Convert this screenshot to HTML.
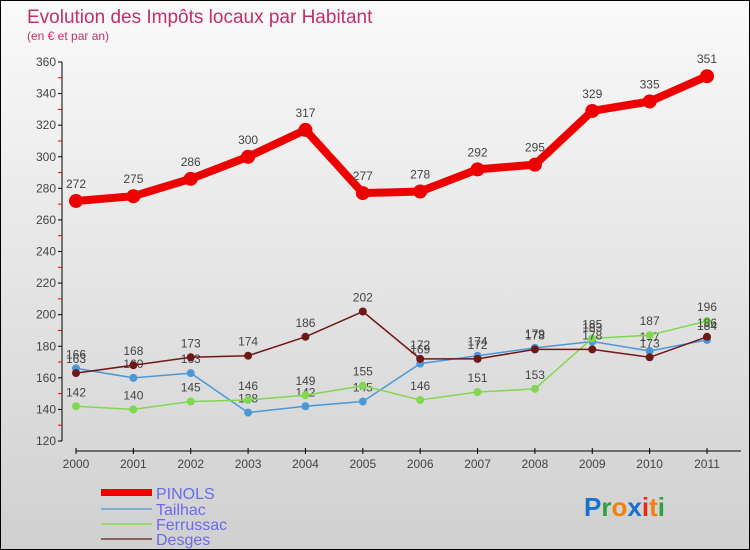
<!DOCTYPE html>
<html><head><meta charset="utf-8"><style>
body{margin:0}
#c{width:750px;height:550px;position:relative;box-sizing:border-box;border:1px solid #000;background:linear-gradient(#fafafa,#d0d0d0);overflow:hidden;font-family:"Liberation Sans",sans-serif}
</style></head><body>
<div id="c">
<svg id="s" width="748" height="548" style="position:absolute;left:0;top:0">
<text x="26" y="22" font-size="19" fill="#c0306a">Evolution des Impôts locaux par Habitant</text>
<text x="26" y="39" font-size="12" fill="#c0306a">(en € et par an)</text>
<g id="g"></g>
<g>
<rect x="100" y="488" width="51" height="7" fill="#e00"/>
<text x="155" y="498" font-size="16" fill="#6a6aee">PINOLS</text>
<rect x="100" y="507" width="51" height="2" fill="#7aaed0"/>
<text x="155" y="514" font-size="16" fill="#6a6aee">Tailhac</text>
<rect x="100" y="522" width="51" height="2" fill="#9ad870"/>
<text x="155" y="529" font-size="16" fill="#6a6aee">Ferrussac</text>
<rect x="100" y="537" width="51" height="2" fill="#906060"/>
<text x="155" y="544" font-size="16" fill="#6a6aee">Desges</text>
</g>
<text x="583" y="515" font-size="26" font-weight="bold"><tspan fill="#1a70d0">P</tspan><tspan fill="#30a040">r</tspan><tspan fill="#f08010">o</tspan><tspan fill="#1a70d0">x</tspan><tspan fill="#e03010">i</tspan><tspan fill="#f08010">t</tspan><tspan fill="#30a040">i</tspan></text>
</svg>
</div>
<script>
const years=["2000","2001","2002","2003","2004","2005","2006","2007","2008","2009","2010","2011"];
const pinols=[272,275,286,300,317,277,278,292,295,329,335,351];
const tailhac=[166,160,163,138,142,145,169,174,179,183,177,184];
const ferrussac=[142,140,145,146,149,155,146,151,153,185,187,196];
const desges=[163,168,173,174,186,202,172,172,178,178,173,186];
const yTicks=[120,140,160,180,200,220,240,260,280,300,320,340,360];
const NS="http://www.w3.org/2000/svg";
const g=document.getElementById('g');
const X=i=>75+i*(706-75)/(years.length-1);
const Y=v=>440-(v-120)*(440-61)/240;
function mk(t,a,p){const e=document.createElementNS(NS,t);for(const k in a)e.setAttribute(k,a[k]);(p||g).appendChild(e);return e;}
let ax=mk('line',{x1:61,y1:Y(360),x2:61,y2:440,stroke:'#000'});


yTicks.forEach((v,k)=>{
 mk('line',{x1:57,x2:61,y1:Y(v),y2:Y(v),stroke:'#000'});
 if(k<yTicks.length-1) mk('line',{x1:57,x2:61,y1:Y(v+10),y2:Y(v+10),stroke:'#e00'});
 const t=mk('text',{x:55,y:Y(v)+4,'font-size':12,fill:'#444','text-anchor':'end'});t.textContent=v;
 
 
});
let xa=mk('line',{x1:75,y1:450,x2:740,y2:450,stroke:'#000'});


years.forEach((y,i)=>{
 mk('line',{x1:X(i),x2:X(i),y1:447,y2:453,stroke:'#000'});
 const t=mk('text',{x:X(i),y:467,'font-size':12,fill:'#444','text-anchor':'middle'});t.textContent=y;
 
 
});
function series(d,col,w,r,name){
 const p=mk('polyline',{points:d.map((v,i)=>X(i)+','+Y(v)).join(' '),fill:'none',stroke:col,'stroke-width':w,'stroke-linejoin':'round'});
 
 
 d.forEach((v,i)=>{
  const c=mk('circle',{cx:X(i),cy:Y(v),r:r,fill:col});
  
  
  const t=mk('text',{x:X(i),y:Y(v)-(r+6),'font-size':12,fill:'#444','text-anchor':'middle'});t.textContent=v;
  
  
 });
}
series(tailhac,'#4a98d8',1.5,4,'tailhac');
series(ferrussac,'#80d850',1.5,4,'ferrussac');
series(desges,'#701818',1.5,4,'desges');
series(pinols,'#ee0000',8,7,'pinols');
</script>
</body></html>
